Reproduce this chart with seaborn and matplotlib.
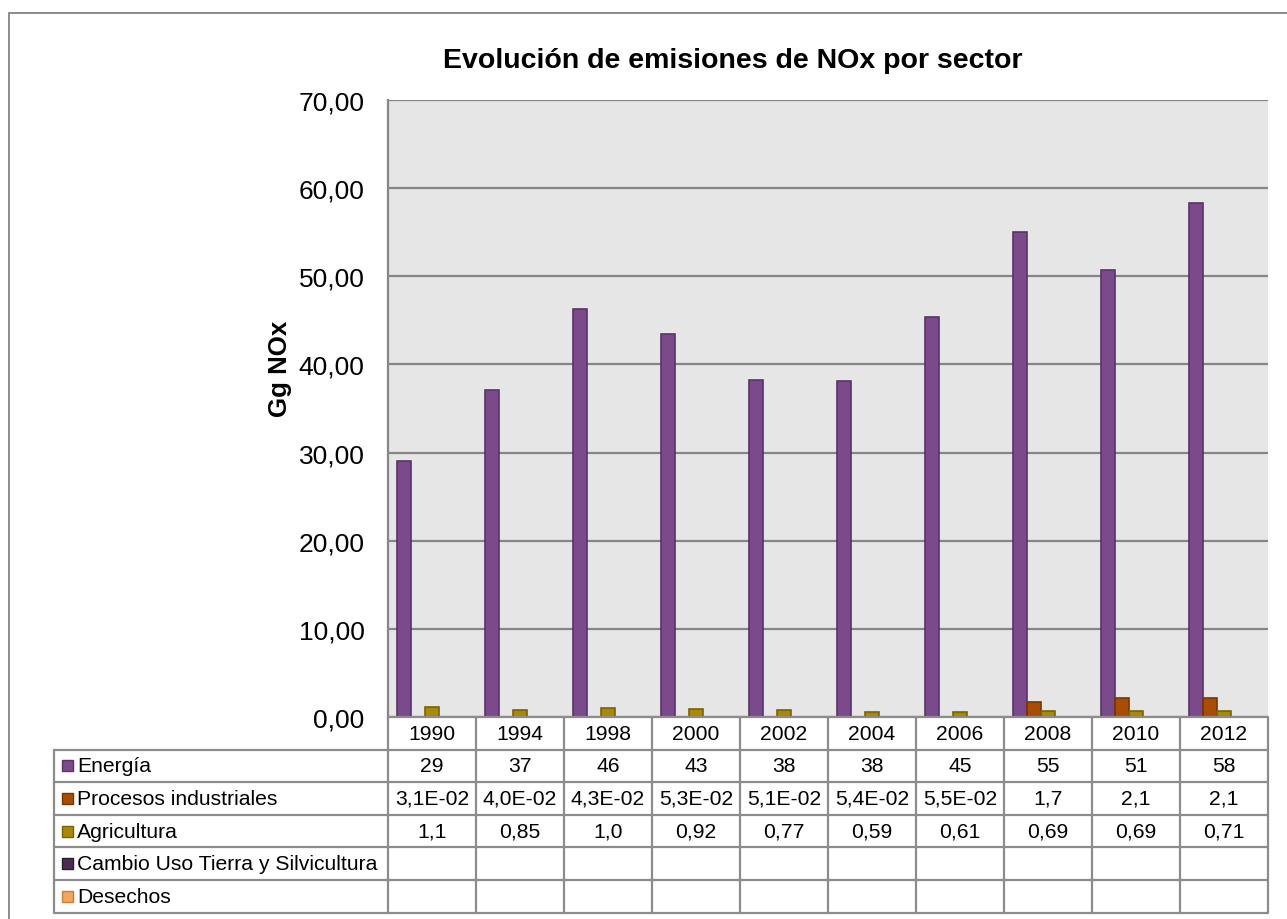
import numpy as np
import pandas as pd
import matplotlib
matplotlib.use("Agg")
import matplotlib.pyplot as plt
import seaborn as sns
from matplotlib.transforms import blended_transform_factory
from matplotlib.lines import Line2D
from matplotlib.patches import Rectangle

# ---------------- data ----------------
years = ["1990", "1994", "1998", "2000", "2002", "2004", "2006", "2008", "2010", "2012"]
sectors = ["Energía", "Procesos industriales", "Agricultura",
           "Cambio Uso Tierra y Silvicultura", "Desechos"]
energia = [29.0, 37.05, 46.3, 43.4, 38.2, 38.1, 45.4, 55.0, 50.7, 58.3]
procesos = [0.031, 0.040, 0.043, 0.053, 0.051, 0.054, 0.055, 1.7, 2.1, 2.1]
agricultura = [1.1, 0.85, 1.0, 0.92, 0.77, 0.59, 0.61, 0.69, 0.69, 0.71]
cambio = [np.nan] * 10
desechos = [np.nan] * 10

energia_lbl = ["29", "37", "46", "43", "38", "38", "45", "55", "51", "58"]
procesos_lbl = ["3,1E-02", "4,0E-02", "4,3E-02", "5,3E-02", "5,1E-02",
                "5,4E-02", "5,5E-02", "1,7", "2,1", "2,1"]
agricultura_lbl = ["1,1", "0,85", "1,0", "0,92", "0,77", "0,59", "0,61", "0,69", "0,69", "0,71"]
cambio_lbl = [""] * 10
desechos_lbl = [""] * 10

yticks = [0, 10, 20, 30, 40, 50, 60, 70]
ytick_lbl = ["0,00", "10,00", "20,00", "30,00", "40,00", "50,00", "60,00", "70,00"]

title = "Evolución de emisiones de NOx por sector"
ylabel = "Gg NOx"

colors = ["#7B4A8B", "#A84D06", "#A88A0A", "#4B2D52", "#F7A35C"]
edges = ["#5A3368", "#7A3400", "#7A6300", "#2E1A33", "#C97D3C"]

# ---------------- build frame ----------------
series = [energia, procesos, agricultura, cambio, desechos]
rows = []
for s, vals in zip(sectors, series):
    for y, v in zip(years, vals):
        rows.append({"Año": y, "Sector": s, "Gg": v})
df = pd.DataFrame(rows)

sns.set_style("white")
plt.rcParams["font.family"] = ["Liberation Sans", "DejaVu Sans"]

W, H = 1287, 920
fig = plt.figure(figsize=(W / 100, H / 100), dpi=100)
fig.patch.set_facecolor("white")

L, R, T, B = 388, 1268, 101, 718
ax = fig.add_axes([L / W, 1 - B / H, (R - L) / W, (B - T) / H])
ax.set_facecolor("#E6E6E6")

sns.barplot(data=df, x="Año", y="Gg", hue="Sector", order=years, hue_order=sectors,
            palette=colors, width=0.8, saturation=1, errorbar=None, ax=ax,
            legend=False, linewidth=1.2, zorder=3)

for cont, ec in zip(ax.containers, edges):
    for p in cont.patches:
        p.set_edgecolor(ec)
        p.set_linewidth(1.2)

ax.set_xlim(-0.5, len(years) - 0.5)
ax.set_ylim(0, 70)
ax.set_yticks(yticks)
ax.set_yticklabels(ytick_lbl, fontsize=19, color="#000000")
ax.set_xticks([])
ax.set_xlabel("")
ax.set_ylabel("")
ax.tick_params(axis="y", length=0, pad=17)
ax.yaxis.grid(True, color="#868686", linewidth=1.6, zorder=1)
ax.set_axisbelow(True)
for sp in ["top", "right", "bottom"]:
    ax.spines[sp].set_visible(False)
ax.spines["left"].set_color("#868686")
ax.spines["left"].set_linewidth(1.6)

fig.text(733 / W, 1 - 61 / H, title, ha="center", va="center",
         fontsize=20.5, fontweight="bold", color="#000000")
fig.text(280 / W, 1 - 369 / H, ylabel, ha="center", va="center", rotation=90,
         fontsize=18.6, fontweight="bold", color="#000000")

# ---------------- data table ----------------
tr = blended_transform_factory(ax.transData, fig.transFigure)
ftr = fig.transFigure
gc = "#8C8C8C"
lw = 1.6
row_h = 32.6
y0 = B
n = len(years)
fs_tab = 15.2

def fy(px):
    return 1 - px / H

# horizontal lines for value columns
for k in range(7):
    yy = fy(y0 + k * row_h)
    fig.add_artist(Line2D([-0.5, n - 0.5], [yy, yy], transform=tr, color=gc, lw=lw))
# horizontal lines for label column (rows start at first data row)
for k in range(1, 7):
    yy = fy(y0 + k * row_h)
    fig.add_artist(Line2D([54 / W, L / W], [yy, yy], transform=ftr, color=gc, lw=lw))
# vertical lines
for i in range(n + 1):
    fig.add_artist(Line2D([i - 0.5, i - 0.5], [fy(y0), fy(y0 + 6 * row_h)],
                          transform=tr, color=gc, lw=lw))
fig.add_artist(Line2D([54 / W, 54 / W], [fy(y0 + row_h), fy(y0 + 6 * row_h)],
                      transform=ftr, color=gc, lw=lw))

# header years
for i, y in enumerate(years):
    fig.text(i, fy(y0 + 0.5 * row_h), y, transform=tr, ha="center", va="center",
             fontsize=fs_tab, color="#000000")

labels = [energia_lbl, procesos_lbl, agricultura_lbl, cambio_lbl, desechos_lbl]
for r, (s, lab, c, ec) in enumerate(zip(sectors, labels, colors, edges)):
    yc = fy(y0 + (r + 1.5) * row_h)
    fig.add_artist(Rectangle((62 / W, yc - 5.5 / H), 11 / W, 11 / H, transform=ftr,
                             facecolor=c, edgecolor=ec, lw=1.0))
    fig.text(77 / W, yc, s, transform=ftr, ha="left", va="center",
             fontsize=fs_tab, color="#000000")
    for i, t in enumerate(lab):
        fig.text(i, yc, t, transform=tr, ha="center", va="center",
                 fontsize=fs_tab, color="#000000")

# outer chart border
fig.add_artist(Line2D([9 / W, 9 / W], [0, fy(14)], transform=ftr, color="#8C8C8C", lw=1.4))
fig.add_artist(Line2D([9 / W, 1], [fy(14), fy(14)], transform=ftr, color="#8C8C8C", lw=1.4))

fig.savefig("out.png", dpi=100, facecolor="white")
